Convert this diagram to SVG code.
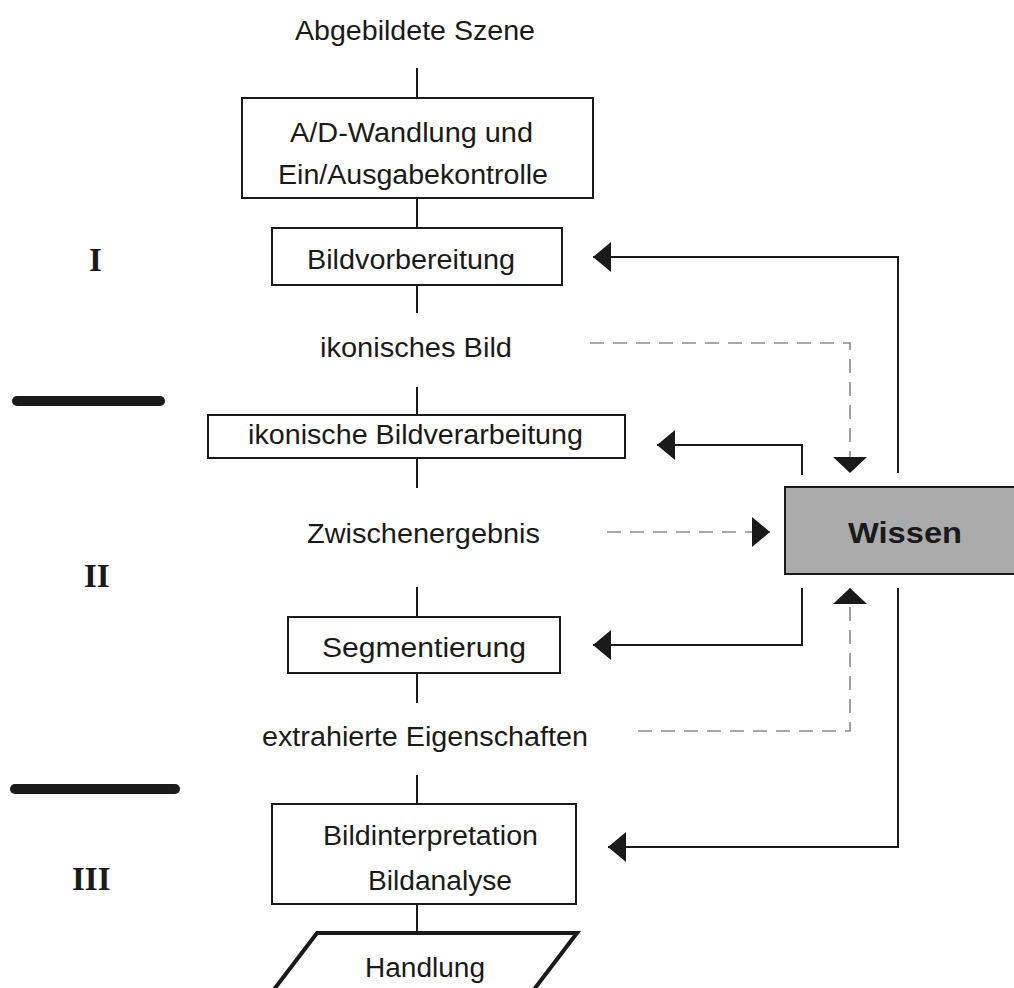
<svg xmlns="http://www.w3.org/2000/svg" width="1014" height="988" viewBox="0 0 1014 988">
<style>
.t{font-family:"Liberation Sans",Arial,sans-serif;font-size:27px;fill:#1a1a1a}
.b{font-family:"Liberation Sans",Arial,sans-serif;font-size:29px;font-weight:bold;fill:#1a1a1a}
.r{font-family:"Liberation Serif","Times New Roman",serif;font-size:33px;font-weight:bold;fill:#1a1a1a}
.box{fill:#fff;stroke:#1a1a1a;stroke-width:2}
.ln{fill:none;stroke:#1a1a1a;stroke-width:2}
.ds{fill:none;stroke:#8a8a8a;stroke-width:1.6;stroke-dasharray:14 9}
.bar{stroke:#1a1a1a;stroke-width:10;stroke-linecap:round}
</style>
<defs>
<marker id="ah" viewBox="0 0 18 30" refX="18" refY="15" markerWidth="18" markerHeight="30" markerUnits="userSpaceOnUse" orient="auto">
<path d="M0,0 L18,15 L0,30 z" fill="#1a1a1a"/>
</marker>
<marker id="av" viewBox="0 0 16 34" refX="16" refY="17" markerWidth="16" markerHeight="34" markerUnits="userSpaceOnUse" orient="auto">
<path d="M0,0 L16,17 L0,34 z" fill="#1a1a1a"/>
</marker>
</defs>
<rect width="1014" height="988" fill="#fff"/>

<g id="levels">
<text class="r" x="89" y="271">I</text>
<text class="r" x="84" y="587">II</text>
<text class="r" x="72" y="890">III</text>
<line class="bar" x1="17" y1="401" x2="160" y2="401"/>
<line class="bar" x1="15" y1="789" x2="175" y2="789"/>
</g>

<g id="connectors">
<path class="ln" d="M417,68 V98 M417,198 V228 M417,285 V313 M417,387 V415 M417,458 V488 M417,587 V617 M417,673 V703 M417,775 V804 M417,904 V933"/>
<path class="ln" d="M898,473 V257 H593" marker-end="url(#ah)"/>
<path class="ln" d="M802,475 V445 H657" marker-end="url(#ah)"/>
<path class="ln" d="M802,588 V645 H593" marker-end="url(#ah)"/>
<path class="ln" d="M898,588 V847 H608" marker-end="url(#ah)"/>
<path class="ds" d="M590,343 H850 V473" marker-end="url(#av)"/>
<path class="ds" d="M607,532 H770" marker-end="url(#ah)"/>
<path class="ds" d="M638,731 H850 V588" marker-end="url(#av)"/>
</g>

<g id="scene">
<text class="t" x="295" y="40" textLength="240" lengthAdjust="spacingAndGlyphs">Abgebildete Szene</text>
</g>
<g id="adwandlung">
<rect class="box" x="242" y="98" width="351" height="100"/>
<text class="t" x="290" y="142" textLength="243" lengthAdjust="spacingAndGlyphs">A/D-Wandlung und</text>
<text class="t" x="278" y="184" textLength="270" lengthAdjust="spacingAndGlyphs">Ein/Ausgabekontrolle</text>
</g>
<g id="bildvorbereitung">
<rect class="box" x="272" y="228" width="290" height="57"/>
<text class="t" x="307" y="269" textLength="208" lengthAdjust="spacingAndGlyphs">Bildvorbereitung</text>
</g>
<g id="ikonischesbild">
<text class="t" x="320" y="357" textLength="192" lengthAdjust="spacingAndGlyphs">ikonisches Bild</text>
</g>
<g id="ikonischeverarbeitung">
<rect class="box" x="208" y="415" width="417" height="43"/>
<text class="t" x="248" y="444" textLength="335" lengthAdjust="spacingAndGlyphs">ikonische Bildverarbeitung</text>
</g>
<g id="zwischenergebnis">
<text class="t" x="307" y="543" textLength="233" lengthAdjust="spacingAndGlyphs">Zwischenergebnis</text>
</g>
<g id="segmentierung">
<rect class="box" x="288" y="617" width="272" height="56"/>
<text class="t" x="322" y="657" textLength="204" lengthAdjust="spacingAndGlyphs">Segmentierung</text>
</g>
<g id="eigenschaften">
<text class="t" x="262" y="746" textLength="326" lengthAdjust="spacingAndGlyphs">extrahierte Eigenschaften</text>
</g>
<g id="bildinterpretation">
<rect class="box" x="272" y="804" width="304" height="100"/>
<text class="t" x="323" y="845" textLength="215" lengthAdjust="spacingAndGlyphs">Bildinterpretation</text>
<text class="t" x="368" y="890" textLength="144" lengthAdjust="spacingAndGlyphs">Bildanalyse</text>
</g>
<g id="handlung">
<polygon points="317,933 577,933 526,1000 266,1000" fill="#fff" stroke="#1a1a1a" stroke-width="4" stroke-linejoin="miter"/>
<text class="t" x="365" y="977" textLength="120" lengthAdjust="spacingAndGlyphs">Handlung</text>
</g>
<g id="wissen">
<rect x="785" y="487" width="240" height="87" fill="#ababab" stroke="#1a1a1a" stroke-width="2"/>
<text class="b" x="848" y="543" textLength="114" lengthAdjust="spacingAndGlyphs">Wissen</text>
</g>
</svg>
